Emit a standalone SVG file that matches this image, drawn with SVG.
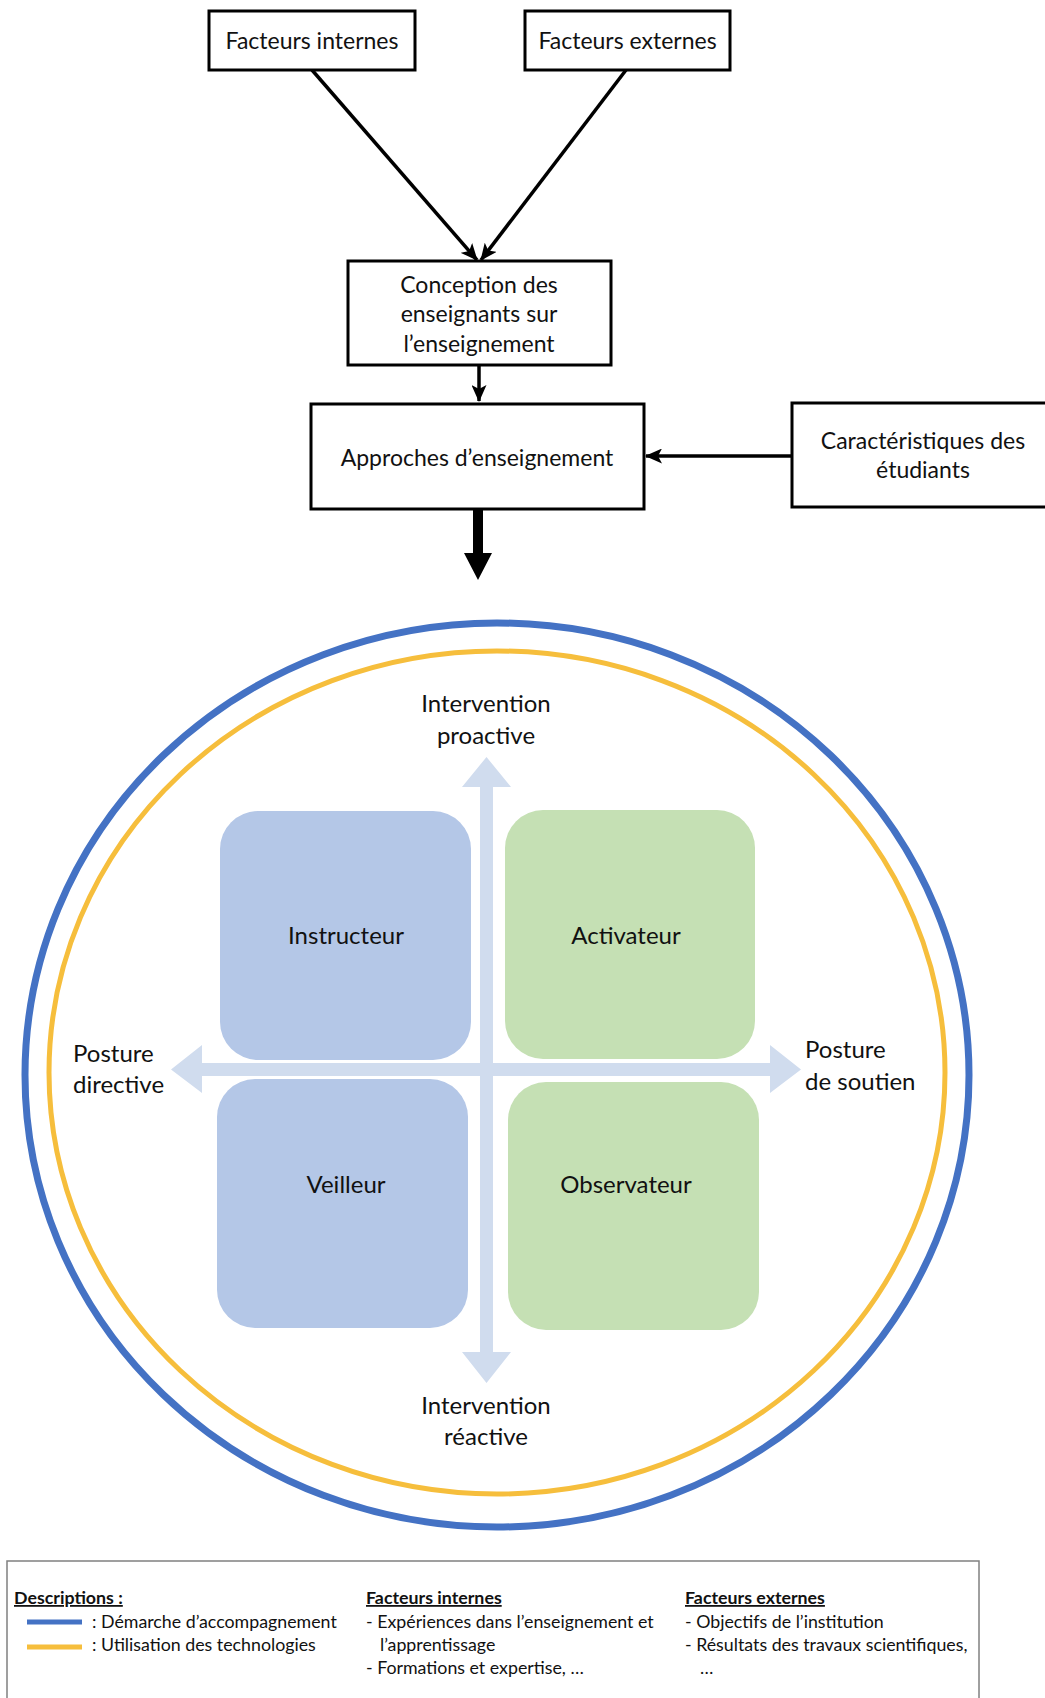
<svg xmlns="http://www.w3.org/2000/svg" width="1045" height="1698" viewBox="0 0 1045 1698">
<style>
  .box{fill:#fff;stroke:#000;stroke-width:3}
  .t{font-family:Lato,"Open Sans","Liberation Sans",sans-serif;fill:#111;text-anchor:middle}
  .big{font-size:23px}
  .lab{font-size:24px}
  .q{font-size:24px}
  .lg{font-family:Lato,"Open Sans","Liberation Sans",sans-serif;fill:#111;font-size:17.8px}
  .lgb{font-weight:bold;text-decoration:underline}
  .con{stroke:#000;stroke-width:3.5;fill:none}
</style>
<defs>
  <marker id="ah" markerUnits="userSpaceOnUse" markerWidth="17" markerHeight="15" viewBox="0 0 17 15" refX="16" refY="7.5" orient="auto">
    <path d="M0,0 L17,7.5 L0,15 L4,7.5 Z" fill="#000"/>
  </marker>
</defs>
<rect width="1045" height="1698" fill="#fff"/>

<g id="connectors">
  <line class="con" x1="312" y1="70" x2="477" y2="260" marker-end="url(#ah)"/>
  <line class="con" x1="626" y1="70" x2="481" y2="260" marker-end="url(#ah)"/>
  <line class="con" x1="479" y1="365" x2="479" y2="401" marker-end="url(#ah)"/>
  <line class="con" x1="792" y1="456" x2="646" y2="456" marker-end="url(#ah)"/>
  <path d="M473,509 L483,509 L483,553 L492,553 L478,580 L464,553 L473,553 Z" fill="#000"/>
</g>

<g id="facteurs-internes">
  <rect class="box" x="209" y="11" width="206" height="59"/>
  <text class="t big" x="312" y="49">Facteurs internes</text>
</g>
<g id="facteurs-externes">
  <rect class="box" x="525" y="11" width="205" height="59"/>
  <text class="t big" x="627.5" y="49">Facteurs externes</text>
</g>
<g id="conception">
  <rect class="box" x="348" y="261" width="263" height="104"/>
  <text class="t big" x="479" y="293">Conception des</text>
  <text class="t big" x="479" y="322">enseignants sur</text>
  <text class="t big" x="479" y="352">l’enseignement</text>
</g>
<g id="approches">
  <rect class="box" x="311" y="404" width="333" height="105"/>
  <text class="t big" x="477" y="466">Approches d’enseignement</text>
</g>
<g id="caracteristiques">
  <rect class="box" x="792" y="403" width="260" height="104"/>
  <text class="t big" x="923" y="449">Caractéristiques des</text>
  <text class="t big" x="923" y="478">étudiants</text>
</g>

<g id="cercles">
  <ellipse cx="497" cy="1075" rx="472" ry="452" fill="none" stroke="#4472c4" stroke-width="7"/>
  <ellipse cx="497" cy="1072.5" rx="448" ry="421.5" fill="none" stroke="#f6be3c" stroke-width="5"/>
</g>

<g id="axes">
  <path d="M486.5,757 L511,787 L493,787 L493,1063 L770,1063 L770,1045 L801,1069.5 L770,1093 L770,1076 L493,1076 L493,1352 L511,1352 L486.5,1383 L462,1352 L480,1352 L480,1076 L202,1076 L202,1093 L171,1069.5 L202,1045 L202,1063 L480,1063 L480,787 L462,787 Z" fill="#d0dcee"/>
</g>

<g id="instructeur">
  <rect x="220" y="811" width="251" height="249" rx="38" fill="#b4c7e7"/>
  <text class="t q" x="346" y="944">Instructeur</text>
</g>
<g id="activateur">
  <rect x="505" y="810" width="250" height="249" rx="38" fill="#c5e0b4"/>
  <text class="t q" x="626" y="944">Activateur</text>
</g>
<g id="veilleur">
  <rect x="217" y="1079" width="251" height="249" rx="38" fill="#b4c7e7"/>
  <text class="t q" x="346" y="1193">Veilleur</text>
</g>
<g id="observateur">
  <rect x="508" y="1082" width="251" height="248" rx="38" fill="#c5e0b4"/>
  <text class="t q" x="626" y="1193">Observateur</text>
</g>

<g id="labels-axes">
  <text class="t lab" x="486" y="712">Intervention</text>
  <text class="t lab" x="486" y="744">proactive</text>
  <text class="t lab" x="486" y="1414">Intervention</text>
  <text class="t lab" x="486" y="1445">réactive</text>
  <text class="t lab" x="73" y="1062" style="text-anchor:start">Posture</text>
  <text class="t lab" x="73" y="1093" style="text-anchor:start">directive</text>
  <text class="t lab" x="805" y="1058" style="text-anchor:start">Posture</text>
  <text class="t lab" x="805" y="1090" style="text-anchor:start">de soutien</text>
</g>

<g id="legende">
  <rect x="7" y="1561" width="972" height="150" fill="none" stroke="#808080" stroke-width="1.5"/>
  <text class="lg lgb" x="14" y="1604">Descriptions :</text>
  <line x1="27" y1="1622" x2="82" y2="1622" stroke="#4472c4" stroke-width="5"/>
  <text class="lg" x="92" y="1628">: Démarche d’accompagnement</text>
  <line x1="27" y1="1647" x2="82" y2="1647" stroke="#f6be3c" stroke-width="5"/>
  <text class="lg" x="92" y="1651">: Utilisation des technologies</text>
  <text class="lg lgb" x="366" y="1604">Facteurs internes</text>
  <text class="lg" x="366" y="1628">-  Expériences dans l’enseignement et</text>
  <text class="lg" x="380" y="1651">l’apprentissage</text>
  <text class="lg" x="366" y="1674">-  Formations et expertise, …</text>
  <text class="lg lgb" x="685" y="1604">Facteurs externes</text>
  <text class="lg" x="685" y="1628">-  Objectifs de l’institution</text>
  <text class="lg" x="685" y="1651">-  Résultats des travaux scientifiques,</text>
  <text class="lg" x="700" y="1674">…</text>
</g>
</svg>
